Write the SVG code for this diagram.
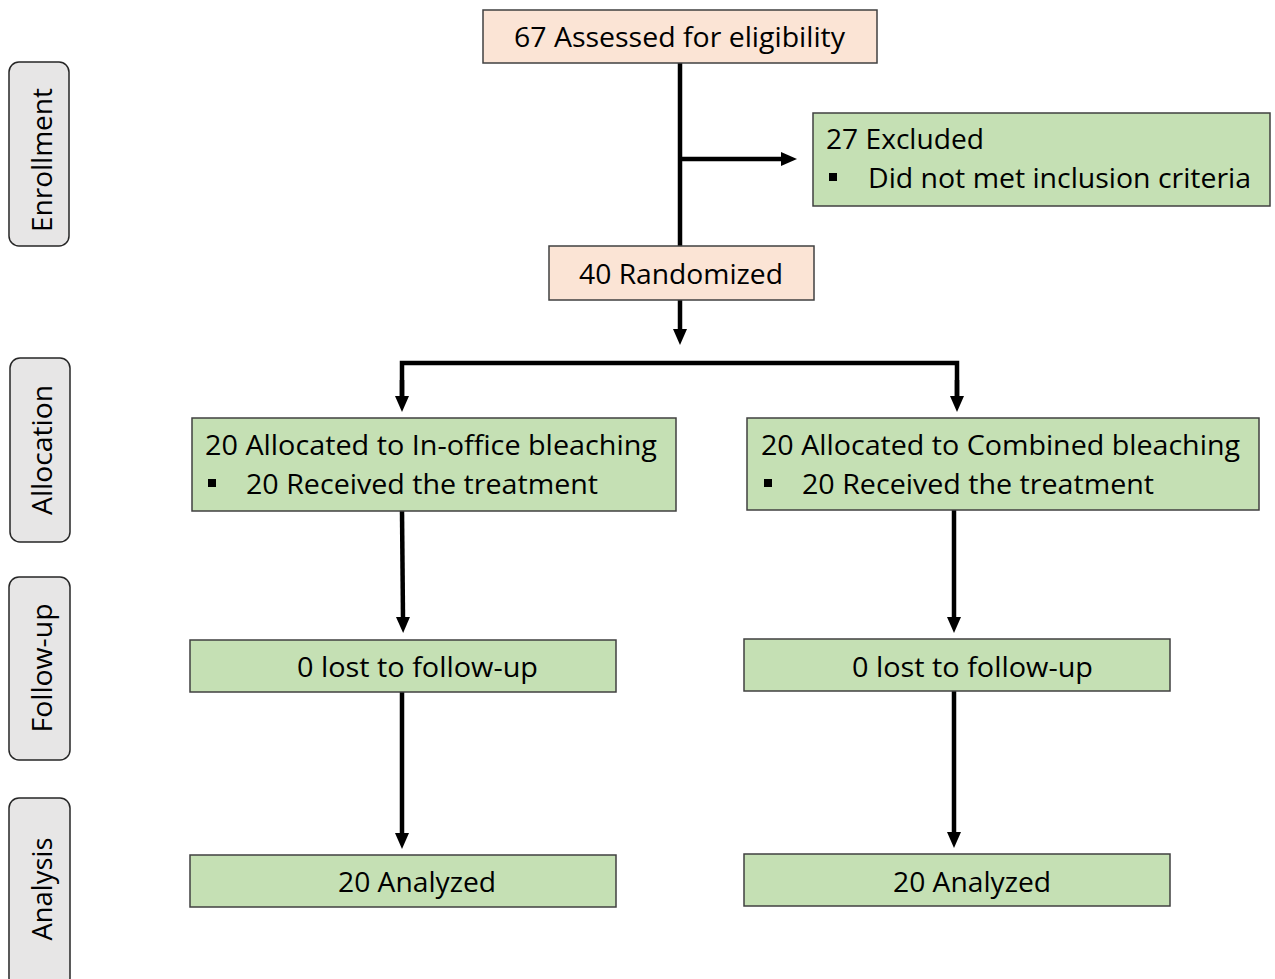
<svg xmlns="http://www.w3.org/2000/svg" width="1275" height="979" viewBox="0 0 1275 979">
<defs>
<marker id="ah" markerUnits="userSpaceOnUse" markerWidth="16" markerHeight="16" viewBox="0 0 16 16" refX="2" refY="8" orient="auto">
<path d="M0,1 L16,8 L0,15 Z" fill="#000"/>
</marker>
<style>
.t{font-family:"Open Sans","Liberation Sans",sans-serif;font-size:28px;fill:#000}
.peach{fill:#FBE4D5;stroke:#404040;stroke-width:1.5}
.green{fill:#C5E0B4;stroke:#404040;stroke-width:1.5}
.side{fill:#E7E6E6;stroke:#262626;stroke-width:1.5}
.c{fill:none;stroke:#000;stroke-width:4.5}
</style>
</defs>
<g id="side-enrollment"><rect class="side" x="9" y="62" width="60" height="184" rx="10"/><text class="t" transform="translate(52,160) rotate(-90)" text-anchor="middle" textLength="144" lengthAdjust="spacingAndGlyphs">Enrollment</text></g>
<g id="side-allocation"><rect class="side" x="10" y="358" width="60" height="184" rx="10"/><text class="t" transform="translate(52,450) rotate(-90)" text-anchor="middle" textLength="130" lengthAdjust="spacingAndGlyphs">Allocation</text></g>
<g id="side-followup"><rect class="side" x="9" y="577" width="61" height="183" rx="10"/><text class="t" transform="translate(52,668) rotate(-90)" text-anchor="middle" textLength="129" lengthAdjust="spacingAndGlyphs">Follow-up</text></g>
<g id="side-analysis"><rect class="side" x="9" y="798" width="61" height="190" rx="10"/><text class="t" transform="translate(52,889) rotate(-90)" text-anchor="middle" textLength="103" lengthAdjust="spacingAndGlyphs">Analysis</text></g>

<g id="connectors">
<line class="c" x1="680" y1="63" x2="680" y2="246"/>
<line class="c" x1="680" y1="159" x2="783" y2="159" marker-end="url(#ah)"/>
<line class="c" x1="680" y1="300" x2="680" y2="331" marker-end="url(#ah)"/>
<polyline class="c" points="402,398 402,363 957,363 957,398" stroke-linejoin="miter"/>
<line class="c" x1="402" y1="380" x2="402" y2="398" marker-end="url(#ah)"/>
<line class="c" x1="957" y1="380" x2="957" y2="398" marker-end="url(#ah)"/>
<line class="c" x1="402" y1="511" x2="403" y2="619" marker-end="url(#ah)"/>
<line class="c" x1="954" y1="510" x2="954" y2="619" marker-end="url(#ah)"/>
<line class="c" x1="402" y1="692" x2="402" y2="835" marker-end="url(#ah)"/>
<line class="c" x1="954" y1="691" x2="954" y2="834" marker-end="url(#ah)"/>
</g>

<g id="assessed"><rect class="peach" x="483" y="10" width="394" height="53"/><text class="t" x="514" y="47" textLength="331" lengthAdjust="spacingAndGlyphs">67 Assessed for eligibility</text></g>
<g id="excluded"><rect class="green" x="813" y="113" width="457" height="93"/><text class="t" x="826" y="149" textLength="158" lengthAdjust="spacingAndGlyphs">27 Excluded</text><rect x="829" y="173" width="8" height="8" fill="#000"/><text class="t" x="868" y="188" textLength="383" lengthAdjust="spacingAndGlyphs">Did not met inclusion criteria</text></g>
<g id="randomized"><rect class="peach" x="549" y="246" width="265" height="54"/><text class="t" x="579" y="284" textLength="204" lengthAdjust="spacingAndGlyphs">40 Randomized</text></g>

<g id="alloc-left"><rect class="green" x="192" y="418" width="484" height="93"/><text class="t" x="205" y="455" textLength="452" lengthAdjust="spacingAndGlyphs">20 Allocated to In-office bleaching</text><rect x="208" y="479" width="8" height="8" fill="#000"/><text class="t" x="246" y="494" textLength="352" lengthAdjust="spacingAndGlyphs">20 Received the treatment</text></g>
<g id="alloc-right"><rect class="green" x="747" y="418" width="512" height="92"/><text class="t" x="761" y="455" textLength="479" lengthAdjust="spacingAndGlyphs">20 Allocated to Combined bleaching</text><rect x="764" y="479" width="8" height="8" fill="#000"/><text class="t" x="802" y="494" textLength="352" lengthAdjust="spacingAndGlyphs">20 Received the treatment</text></g>

<g id="followup-left"><rect class="green" x="190" y="640" width="426" height="52"/><text class="t" x="297" y="677" textLength="241" lengthAdjust="spacingAndGlyphs">0 lost to follow-up</text></g>
<g id="followup-right"><rect class="green" x="744" y="639" width="426" height="52"/><text class="t" x="852" y="677" textLength="241" lengthAdjust="spacingAndGlyphs">0 lost to follow-up</text></g>

<g id="analyzed-left"><rect class="green" x="190" y="855" width="426" height="52"/><text class="t" x="338" y="892" textLength="158" lengthAdjust="spacingAndGlyphs">20 Analyzed</text></g>
<g id="analyzed-right"><rect class="green" x="744" y="854" width="426" height="52"/><text class="t" x="893" y="892" textLength="158" lengthAdjust="spacingAndGlyphs">20 Analyzed</text></g>
</svg>
